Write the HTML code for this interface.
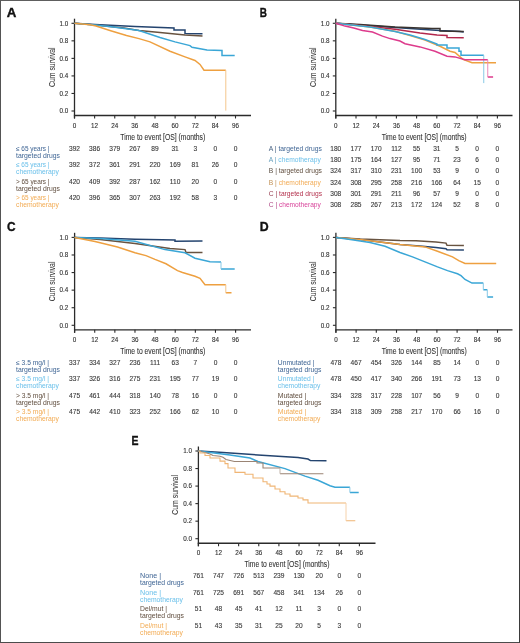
<!DOCTYPE html>
<html><head><meta charset="utf-8"><title>Figure</title>
<style>
html,body{margin:0;padding:0;background:#fff;}
#fig{position:relative;width:520px;height:643px;box-sizing:border-box;border:1px solid #4a4a4a;border-top-color:#5e5e5e;border-left-color:#545454;border-right-color:#3a3a3a;border-bottom-color:#4c4c4c;background:#fff;overflow:hidden;}
svg{position:absolute;left:-1px;top:-1px;font-family:"Liberation Sans", sans-serif;will-change:transform;}
</style></head><body>
<div id="fig">
<svg width="520" height="643" viewBox="0 0 520 643">
<text x="6.8" y="16.5" font-size="12" fill="#111" text-anchor="start" font-weight="bold" textLength="9.6" lengthAdjust="spacingAndGlyphs" stroke="#111" stroke-width="0.35">A</text>
<path d="M74.5 18.7 V118.5" stroke="#2b2b2b" stroke-width="1.3" fill="none"/>
<path d="M73.85 115.5 H251" stroke="#2b2b2b" stroke-width="1.3" fill="none"/>
<path d="M71.5 111.00 H74.5" stroke="#2b2b2b" stroke-width="1.1"/>
<text x="68.2" y="113.30" font-size="6.3" fill="#333" text-anchor="end" font-weight="normal" stroke="#333" stroke-width="0.12">0.0</text>
<path d="M71.5 93.46 H74.5" stroke="#2b2b2b" stroke-width="1.1"/>
<text x="68.2" y="95.76" font-size="6.3" fill="#333" text-anchor="end" font-weight="normal" stroke="#333" stroke-width="0.12">0.2</text>
<path d="M71.5 75.92 H74.5" stroke="#2b2b2b" stroke-width="1.1"/>
<text x="68.2" y="78.22" font-size="6.3" fill="#333" text-anchor="end" font-weight="normal" stroke="#333" stroke-width="0.12">0.4</text>
<path d="M71.5 58.38 H74.5" stroke="#2b2b2b" stroke-width="1.1"/>
<text x="68.2" y="60.68" font-size="6.3" fill="#333" text-anchor="end" font-weight="normal" stroke="#333" stroke-width="0.12">0.6</text>
<path d="M71.5 40.84 H74.5" stroke="#2b2b2b" stroke-width="1.1"/>
<text x="68.2" y="43.14" font-size="6.3" fill="#333" text-anchor="end" font-weight="normal" stroke="#333" stroke-width="0.12">0.8</text>
<path d="M71.5 23.30 H74.5" stroke="#2b2b2b" stroke-width="1.1"/>
<text x="68.2" y="25.60" font-size="6.3" fill="#333" text-anchor="end" font-weight="normal" stroke="#333" stroke-width="0.12">1.0</text>
<path d="M74.50 115.5 V118.5" stroke="#2b2b2b" stroke-width="1.1"/>
<text x="74.50" y="127.5" font-size="6.3" fill="#333" text-anchor="middle" font-weight="normal" stroke="#333" stroke-width="0.12">0</text>
<path d="M94.62 115.5 V118.5" stroke="#2b2b2b" stroke-width="1.1"/>
<text x="94.62" y="127.5" font-size="6.3" fill="#333" text-anchor="middle" font-weight="normal" stroke="#333" stroke-width="0.12">12</text>
<path d="M114.75 115.5 V118.5" stroke="#2b2b2b" stroke-width="1.1"/>
<text x="114.75" y="127.5" font-size="6.3" fill="#333" text-anchor="middle" font-weight="normal" stroke="#333" stroke-width="0.12">24</text>
<path d="M134.88 115.5 V118.5" stroke="#2b2b2b" stroke-width="1.1"/>
<text x="134.88" y="127.5" font-size="6.3" fill="#333" text-anchor="middle" font-weight="normal" stroke="#333" stroke-width="0.12">36</text>
<path d="M155.00 115.5 V118.5" stroke="#2b2b2b" stroke-width="1.1"/>
<text x="155.00" y="127.5" font-size="6.3" fill="#333" text-anchor="middle" font-weight="normal" stroke="#333" stroke-width="0.12">48</text>
<path d="M175.12 115.5 V118.5" stroke="#2b2b2b" stroke-width="1.1"/>
<text x="175.12" y="127.5" font-size="6.3" fill="#333" text-anchor="middle" font-weight="normal" stroke="#333" stroke-width="0.12">60</text>
<path d="M195.25 115.5 V118.5" stroke="#2b2b2b" stroke-width="1.1"/>
<text x="195.25" y="127.5" font-size="6.3" fill="#333" text-anchor="middle" font-weight="normal" stroke="#333" stroke-width="0.12">72</text>
<path d="M215.38 115.5 V118.5" stroke="#2b2b2b" stroke-width="1.1"/>
<text x="215.38" y="127.5" font-size="6.3" fill="#333" text-anchor="middle" font-weight="normal" stroke="#333" stroke-width="0.12">84</text>
<path d="M235.50 115.5 V118.5" stroke="#2b2b2b" stroke-width="1.1"/>
<text x="235.50" y="127.5" font-size="6.3" fill="#333" text-anchor="middle" font-weight="normal" stroke="#333" stroke-width="0.12">96</text>
<text x="162.75" y="139.5" font-size="8.6" fill="#333" text-anchor="middle" font-weight="normal" textLength="85" lengthAdjust="spacingAndGlyphs" stroke="#333" stroke-width="0.1">Time to event [OS] (months)</text>
<text transform="translate(54.5 67.15) rotate(-90)" x="0" y="0" font-size="8.2" fill="#333" stroke="#333" stroke-width="0.06" text-anchor="middle" textLength="39.6" lengthAdjust="spacingAndGlyphs">Cum survival</text>
<path d="M74.50 23.30 L95.00 24.40 L120.00 25.80 L135.00 26.60 L174.00 28.00 L174.00 30.00 L185.00 30.00 L185.00 33.50 L202.50 33.70" stroke="#24446f" stroke-width="1.5" fill="none" stroke-linejoin="miter"/>
<path d="M74.50 23.30 L95.00 25.00 L124.00 28.00 L139.00 30.50 L160.00 32.50 L185.00 35.00 L202.50 36.00" stroke="#685340" stroke-width="1.5" fill="none" stroke-linejoin="miter"/>
<path d="M74.50 23.30 L95.00 24.90 L111.50 26.80 L139.00 30.50 L160.00 37.50 L175.00 41.90 L190.00 45.60 L192.00 47.25 L207.00 50.00 L222.00 50.50 L222.00 55.40 L234.70 55.40" stroke="#3aa6d6" stroke-width="1.5" fill="none" stroke-linejoin="miter"/>
<path d="M74.50 23.30 L90.00 24.80 L96.00 26.00 L111.50 31.00 L126.50 35.50 L139.00 38.60 L150.00 41.90 L170.00 51.25 L185.00 56.90 L195.00 60.50 L200.00 64.40 L204.00 70.20 L225.80 70.20 M225.80 110.60" stroke="#eea040" stroke-width="1.5" fill="none" stroke-linejoin="miter"/>
<path d="M225.80 70.20 V110.60" stroke="#f4c68c" stroke-width="1.0" fill="none"/>
<text x="259.8" y="16.7" font-size="12" fill="#111" text-anchor="start" font-weight="bold" textLength="7.2" lengthAdjust="spacingAndGlyphs" stroke="#111" stroke-width="0.35">B</text>
<path d="M335.8 18.7 V118.5" stroke="#2b2b2b" stroke-width="1.3" fill="none"/>
<path d="M335.15000000000003 115.5 H512.5" stroke="#2b2b2b" stroke-width="1.3" fill="none"/>
<path d="M332.8 111.00 H335.8" stroke="#2b2b2b" stroke-width="1.1"/>
<text x="329.5" y="113.30" font-size="6.3" fill="#333" text-anchor="end" font-weight="normal" stroke="#333" stroke-width="0.12">0.0</text>
<path d="M332.8 93.46 H335.8" stroke="#2b2b2b" stroke-width="1.1"/>
<text x="329.5" y="95.76" font-size="6.3" fill="#333" text-anchor="end" font-weight="normal" stroke="#333" stroke-width="0.12">0.2</text>
<path d="M332.8 75.92 H335.8" stroke="#2b2b2b" stroke-width="1.1"/>
<text x="329.5" y="78.22" font-size="6.3" fill="#333" text-anchor="end" font-weight="normal" stroke="#333" stroke-width="0.12">0.4</text>
<path d="M332.8 58.38 H335.8" stroke="#2b2b2b" stroke-width="1.1"/>
<text x="329.5" y="60.68" font-size="6.3" fill="#333" text-anchor="end" font-weight="normal" stroke="#333" stroke-width="0.12">0.6</text>
<path d="M332.8 40.84 H335.8" stroke="#2b2b2b" stroke-width="1.1"/>
<text x="329.5" y="43.14" font-size="6.3" fill="#333" text-anchor="end" font-weight="normal" stroke="#333" stroke-width="0.12">0.8</text>
<path d="M332.8 23.30 H335.8" stroke="#2b2b2b" stroke-width="1.1"/>
<text x="329.5" y="25.60" font-size="6.3" fill="#333" text-anchor="end" font-weight="normal" stroke="#333" stroke-width="0.12">1.0</text>
<path d="M335.80 115.5 V118.5" stroke="#2b2b2b" stroke-width="1.1"/>
<text x="335.80" y="127.5" font-size="6.3" fill="#333" text-anchor="middle" font-weight="normal" stroke="#333" stroke-width="0.12">0</text>
<path d="M356.00 115.5 V118.5" stroke="#2b2b2b" stroke-width="1.1"/>
<text x="356.00" y="127.5" font-size="6.3" fill="#333" text-anchor="middle" font-weight="normal" stroke="#333" stroke-width="0.12">12</text>
<path d="M376.20 115.5 V118.5" stroke="#2b2b2b" stroke-width="1.1"/>
<text x="376.20" y="127.5" font-size="6.3" fill="#333" text-anchor="middle" font-weight="normal" stroke="#333" stroke-width="0.12">24</text>
<path d="M396.40 115.5 V118.5" stroke="#2b2b2b" stroke-width="1.1"/>
<text x="396.40" y="127.5" font-size="6.3" fill="#333" text-anchor="middle" font-weight="normal" stroke="#333" stroke-width="0.12">36</text>
<path d="M416.60 115.5 V118.5" stroke="#2b2b2b" stroke-width="1.1"/>
<text x="416.60" y="127.5" font-size="6.3" fill="#333" text-anchor="middle" font-weight="normal" stroke="#333" stroke-width="0.12">48</text>
<path d="M436.80 115.5 V118.5" stroke="#2b2b2b" stroke-width="1.1"/>
<text x="436.80" y="127.5" font-size="6.3" fill="#333" text-anchor="middle" font-weight="normal" stroke="#333" stroke-width="0.12">60</text>
<path d="M457.00 115.5 V118.5" stroke="#2b2b2b" stroke-width="1.1"/>
<text x="457.00" y="127.5" font-size="6.3" fill="#333" text-anchor="middle" font-weight="normal" stroke="#333" stroke-width="0.12">72</text>
<path d="M477.20 115.5 V118.5" stroke="#2b2b2b" stroke-width="1.1"/>
<text x="477.20" y="127.5" font-size="6.3" fill="#333" text-anchor="middle" font-weight="normal" stroke="#333" stroke-width="0.12">84</text>
<path d="M497.40 115.5 V118.5" stroke="#2b2b2b" stroke-width="1.1"/>
<text x="497.40" y="127.5" font-size="6.3" fill="#333" text-anchor="middle" font-weight="normal" stroke="#333" stroke-width="0.12">96</text>
<text x="424.15" y="139.5" font-size="8.6" fill="#333" text-anchor="middle" font-weight="normal" textLength="85" lengthAdjust="spacingAndGlyphs" stroke="#333" stroke-width="0.1">Time to event [OS] (months)</text>
<text transform="translate(315.8 67.15) rotate(-90)" x="0" y="0" font-size="8.2" fill="#333" stroke="#333" stroke-width="0.06" text-anchor="middle" textLength="39.6" lengthAdjust="spacingAndGlyphs">Cum survival</text>
<path d="M335.80 23.30 L360.00 25.00 L395.00 27.50 L432.00 30.00 L440.00 30.60 L460.00 31.50 L463.75 31.90" stroke="#24446f" stroke-width="1.5" fill="none" stroke-linejoin="miter"/>
<path d="M335.80 23.30 L360.00 24.50 L395.00 26.90 L432.00 28.50 L440.00 28.50 L440.00 31.00 L463.75 31.50" stroke="#3a3430" stroke-width="1.5" fill="none" stroke-linejoin="miter"/>
<path d="M335.80 23.30 L360.00 25.60 L395.00 29.30 L420.00 33.10 L437.00 35.00 L447.00 35.50 L447.00 37.50 L463.75 37.75" stroke="#b3284c" stroke-width="1.5" fill="none" stroke-linejoin="miter"/>
<path d="M335.80 23.30 L370.00 27.00 L395.00 31.20 L410.00 35.60 L425.00 40.00 L440.00 46.25 L450.00 51.25 L455.00 52.50 L463.00 59.40 L472.00 62.75 L496.00 62.75" stroke="#eea040" stroke-width="1.5" fill="none" stroke-linejoin="miter"/>
<path d="M335.80 23.30 L370.00 27.00 L395.00 31.50 L410.00 35.00 L425.00 39.50 L437.00 44.00 L437.00 45.00 L447.00 45.00 L447.00 48.10 L459.00 48.10 L459.00 51.25 L461.00 51.25 L461.00 55.25 L483.75 55.25 M483.75 83.10" stroke="#3aa6d6" stroke-width="1.5" fill="none" stroke-linejoin="miter"/>
<path d="M483.75 55.25 V83.10" stroke="#88c9e6" stroke-width="1.0" fill="none"/>
<path d="M335.80 23.30 L345.00 26.10 L353.75 28.00 L362.50 30.50 L372.50 32.00 L382.50 36.10 L390.00 38.60 L400.00 41.00 L405.00 43.75 L420.00 46.90 L435.00 51.25 L447.00 56.25 L455.00 56.90 L465.00 59.75 L487.75 59.75 M487.75 77.10 L493.10 77.10" stroke="#dd3b8c" stroke-width="1.5" fill="none" stroke-linejoin="miter"/>
<path d="M487.75 59.75 V77.10" stroke="#ea89ba" stroke-width="1.0" fill="none"/>
<text x="7.0" y="230.9" font-size="12" fill="#111" text-anchor="start" font-weight="bold" textLength="8.6" lengthAdjust="spacingAndGlyphs" stroke="#111" stroke-width="0.35">C</text>
<path d="M74.6 232.8 V332.8" stroke="#2b2b2b" stroke-width="1.3" fill="none"/>
<path d="M73.94999999999999 329.8 H251" stroke="#2b2b2b" stroke-width="1.3" fill="none"/>
<path d="M71.6 325.30 H74.6" stroke="#2b2b2b" stroke-width="1.1"/>
<text x="68.3" y="327.60" font-size="6.3" fill="#333" text-anchor="end" font-weight="normal" stroke="#333" stroke-width="0.12">0.0</text>
<path d="M71.6 307.72 H74.6" stroke="#2b2b2b" stroke-width="1.1"/>
<text x="68.3" y="310.02" font-size="6.3" fill="#333" text-anchor="end" font-weight="normal" stroke="#333" stroke-width="0.12">0.2</text>
<path d="M71.6 290.14 H74.6" stroke="#2b2b2b" stroke-width="1.1"/>
<text x="68.3" y="292.44" font-size="6.3" fill="#333" text-anchor="end" font-weight="normal" stroke="#333" stroke-width="0.12">0.4</text>
<path d="M71.6 272.56 H74.6" stroke="#2b2b2b" stroke-width="1.1"/>
<text x="68.3" y="274.86" font-size="6.3" fill="#333" text-anchor="end" font-weight="normal" stroke="#333" stroke-width="0.12">0.6</text>
<path d="M71.6 254.98 H74.6" stroke="#2b2b2b" stroke-width="1.1"/>
<text x="68.3" y="257.28" font-size="6.3" fill="#333" text-anchor="end" font-weight="normal" stroke="#333" stroke-width="0.12">0.8</text>
<path d="M71.6 237.40 H74.6" stroke="#2b2b2b" stroke-width="1.1"/>
<text x="68.3" y="239.70" font-size="6.3" fill="#333" text-anchor="end" font-weight="normal" stroke="#333" stroke-width="0.12">1.0</text>
<path d="M74.60 329.8 V332.8" stroke="#2b2b2b" stroke-width="1.1"/>
<text x="74.60" y="341.8" font-size="6.3" fill="#333" text-anchor="middle" font-weight="normal" stroke="#333" stroke-width="0.12">0</text>
<path d="M94.72 329.8 V332.8" stroke="#2b2b2b" stroke-width="1.1"/>
<text x="94.72" y="341.8" font-size="6.3" fill="#333" text-anchor="middle" font-weight="normal" stroke="#333" stroke-width="0.12">12</text>
<path d="M114.85 329.8 V332.8" stroke="#2b2b2b" stroke-width="1.1"/>
<text x="114.85" y="341.8" font-size="6.3" fill="#333" text-anchor="middle" font-weight="normal" stroke="#333" stroke-width="0.12">24</text>
<path d="M134.97 329.8 V332.8" stroke="#2b2b2b" stroke-width="1.1"/>
<text x="134.97" y="341.8" font-size="6.3" fill="#333" text-anchor="middle" font-weight="normal" stroke="#333" stroke-width="0.12">36</text>
<path d="M155.10 329.8 V332.8" stroke="#2b2b2b" stroke-width="1.1"/>
<text x="155.10" y="341.8" font-size="6.3" fill="#333" text-anchor="middle" font-weight="normal" stroke="#333" stroke-width="0.12">48</text>
<path d="M175.22 329.8 V332.8" stroke="#2b2b2b" stroke-width="1.1"/>
<text x="175.22" y="341.8" font-size="6.3" fill="#333" text-anchor="middle" font-weight="normal" stroke="#333" stroke-width="0.12">60</text>
<path d="M195.35 329.8 V332.8" stroke="#2b2b2b" stroke-width="1.1"/>
<text x="195.35" y="341.8" font-size="6.3" fill="#333" text-anchor="middle" font-weight="normal" stroke="#333" stroke-width="0.12">72</text>
<path d="M215.47 329.8 V332.8" stroke="#2b2b2b" stroke-width="1.1"/>
<text x="215.47" y="341.8" font-size="6.3" fill="#333" text-anchor="middle" font-weight="normal" stroke="#333" stroke-width="0.12">84</text>
<path d="M235.60 329.8 V332.8" stroke="#2b2b2b" stroke-width="1.1"/>
<text x="235.60" y="341.8" font-size="6.3" fill="#333" text-anchor="middle" font-weight="normal" stroke="#333" stroke-width="0.12">96</text>
<text x="162.80" y="353.8" font-size="8.6" fill="#333" text-anchor="middle" font-weight="normal" textLength="85" lengthAdjust="spacingAndGlyphs" stroke="#333" stroke-width="0.1">Time to event [OS] (months)</text>
<text transform="translate(54.599999999999994 281.35) rotate(-90)" x="0" y="0" font-size="8.2" fill="#333" stroke="#333" stroke-width="0.06" text-anchor="middle" textLength="39.6" lengthAdjust="spacingAndGlyphs">Cum survival</text>
<path d="M74.60 237.40 L100.00 238.00 L135.00 239.30 L175.00 240.00 L175.00 241.25 L202.50 241.10" stroke="#24446f" stroke-width="1.5" fill="none" stroke-linejoin="miter"/>
<path d="M74.60 237.40 L100.00 239.50 L135.00 243.40 L170.00 248.40 L185.00 249.60 L186.00 252.50 L202.50 252.60" stroke="#685340" stroke-width="1.5" fill="none" stroke-linejoin="miter"/>
<path d="M74.60 237.40 L100.00 238.50 L135.00 241.20 L165.00 249.60 L185.00 252.75 L195.00 258.20 L210.00 261.70 L221.00 262.00 M221.00 269.10 L234.70 269.10" stroke="#3aa6d6" stroke-width="1.5" fill="none" stroke-linejoin="miter"/>
<path d="M221.00 262.00 V269.10" stroke="#88c9e6" stroke-width="1.0" fill="none"/>
<path d="M74.60 237.40 L95.00 241.50 L117.50 247.00 L135.00 252.80 L146.00 255.60 L155.00 259.40 L166.00 263.75 L177.50 270.60 L182.50 272.50 L195.00 276.25 L200.00 278.40 L205.00 284.70 L225.80 284.70 M225.80 292.80 L231.50 292.80" stroke="#eea040" stroke-width="1.5" fill="none" stroke-linejoin="miter"/>
<path d="M225.80 284.70 V292.80" stroke="#f4c68c" stroke-width="1.0" fill="none"/>
<text x="259.8" y="231.2" font-size="12" fill="#111" text-anchor="start" font-weight="bold" textLength="8.9" lengthAdjust="spacingAndGlyphs" stroke="#111" stroke-width="0.35">D</text>
<path d="M335.9 232.8 V332.8" stroke="#2b2b2b" stroke-width="1.3" fill="none"/>
<path d="M335.25 329.8 H512.5" stroke="#2b2b2b" stroke-width="1.3" fill="none"/>
<path d="M332.9 325.30 H335.9" stroke="#2b2b2b" stroke-width="1.1"/>
<text x="329.59999999999997" y="327.60" font-size="6.3" fill="#333" text-anchor="end" font-weight="normal" stroke="#333" stroke-width="0.12">0.0</text>
<path d="M332.9 307.72 H335.9" stroke="#2b2b2b" stroke-width="1.1"/>
<text x="329.59999999999997" y="310.02" font-size="6.3" fill="#333" text-anchor="end" font-weight="normal" stroke="#333" stroke-width="0.12">0.2</text>
<path d="M332.9 290.14 H335.9" stroke="#2b2b2b" stroke-width="1.1"/>
<text x="329.59999999999997" y="292.44" font-size="6.3" fill="#333" text-anchor="end" font-weight="normal" stroke="#333" stroke-width="0.12">0.4</text>
<path d="M332.9 272.56 H335.9" stroke="#2b2b2b" stroke-width="1.1"/>
<text x="329.59999999999997" y="274.86" font-size="6.3" fill="#333" text-anchor="end" font-weight="normal" stroke="#333" stroke-width="0.12">0.6</text>
<path d="M332.9 254.98 H335.9" stroke="#2b2b2b" stroke-width="1.1"/>
<text x="329.59999999999997" y="257.28" font-size="6.3" fill="#333" text-anchor="end" font-weight="normal" stroke="#333" stroke-width="0.12">0.8</text>
<path d="M332.9 237.40 H335.9" stroke="#2b2b2b" stroke-width="1.1"/>
<text x="329.59999999999997" y="239.70" font-size="6.3" fill="#333" text-anchor="end" font-weight="normal" stroke="#333" stroke-width="0.12">1.0</text>
<path d="M335.90 329.8 V332.8" stroke="#2b2b2b" stroke-width="1.1"/>
<text x="335.90" y="341.8" font-size="6.3" fill="#333" text-anchor="middle" font-weight="normal" stroke="#333" stroke-width="0.12">0</text>
<path d="M356.10 329.8 V332.8" stroke="#2b2b2b" stroke-width="1.1"/>
<text x="356.10" y="341.8" font-size="6.3" fill="#333" text-anchor="middle" font-weight="normal" stroke="#333" stroke-width="0.12">12</text>
<path d="M376.30 329.8 V332.8" stroke="#2b2b2b" stroke-width="1.1"/>
<text x="376.30" y="341.8" font-size="6.3" fill="#333" text-anchor="middle" font-weight="normal" stroke="#333" stroke-width="0.12">24</text>
<path d="M396.50 329.8 V332.8" stroke="#2b2b2b" stroke-width="1.1"/>
<text x="396.50" y="341.8" font-size="6.3" fill="#333" text-anchor="middle" font-weight="normal" stroke="#333" stroke-width="0.12">36</text>
<path d="M416.70 329.8 V332.8" stroke="#2b2b2b" stroke-width="1.1"/>
<text x="416.70" y="341.8" font-size="6.3" fill="#333" text-anchor="middle" font-weight="normal" stroke="#333" stroke-width="0.12">48</text>
<path d="M436.90 329.8 V332.8" stroke="#2b2b2b" stroke-width="1.1"/>
<text x="436.90" y="341.8" font-size="6.3" fill="#333" text-anchor="middle" font-weight="normal" stroke="#333" stroke-width="0.12">60</text>
<path d="M457.10 329.8 V332.8" stroke="#2b2b2b" stroke-width="1.1"/>
<text x="457.10" y="341.8" font-size="6.3" fill="#333" text-anchor="middle" font-weight="normal" stroke="#333" stroke-width="0.12">72</text>
<path d="M477.30 329.8 V332.8" stroke="#2b2b2b" stroke-width="1.1"/>
<text x="477.30" y="341.8" font-size="6.3" fill="#333" text-anchor="middle" font-weight="normal" stroke="#333" stroke-width="0.12">84</text>
<path d="M497.50 329.8 V332.8" stroke="#2b2b2b" stroke-width="1.1"/>
<text x="497.50" y="341.8" font-size="6.3" fill="#333" text-anchor="middle" font-weight="normal" stroke="#333" stroke-width="0.12">96</text>
<text x="424.20" y="353.8" font-size="8.6" fill="#333" text-anchor="middle" font-weight="normal" textLength="85" lengthAdjust="spacingAndGlyphs" stroke="#333" stroke-width="0.1">Time to event [OS] (months)</text>
<text transform="translate(315.9 281.35) rotate(-90)" x="0" y="0" font-size="8.2" fill="#333" stroke="#333" stroke-width="0.06" text-anchor="middle" textLength="39.6" lengthAdjust="spacingAndGlyphs">Cum survival</text>
<path d="M335.90 237.40 L360.00 239.00 L400.00 240.60 L416.00 240.80 L436.00 241.90 L446.00 243.10 L447.00 245.20 L463.90 245.50" stroke="#685340" stroke-width="1.5" fill="none" stroke-linejoin="miter"/>
<path d="M335.90 237.40 L360.00 239.50 L400.00 244.40 L422.50 246.25 L436.00 247.50 L446.00 248.75 L447.00 249.80 L463.90 249.90" stroke="#24446f" stroke-width="1.5" fill="none" stroke-linejoin="miter"/>
<path d="M335.90 237.40 L360.00 239.50 L400.00 244.40 L425.00 246.90 L437.50 251.25 L452.50 256.90 L458.75 260.60 L465.00 263.50 L496.20 263.50" stroke="#eea040" stroke-width="1.5" fill="none" stroke-linejoin="miter"/>
<path d="M335.90 237.40 L352.00 239.80 L370.00 242.60 L385.00 246.30 L400.00 252.50 L412.50 256.90 L425.00 261.90 L437.50 266.90 L447.50 270.60 L457.50 273.75 L461.00 275.70 L465.00 279.50 L472.00 283.10 L483.30 283.10 M483.30 289.70 L487.30 289.70 M487.30 297.00 L493.10 297.00" stroke="#3aa6d6" stroke-width="1.5" fill="none" stroke-linejoin="miter"/>
<path d="M483.30 283.10 V289.70" stroke="#88c9e6" stroke-width="1.0" fill="none"/>
<path d="M487.30 289.70 V297.00" stroke="#88c9e6" stroke-width="1.0" fill="none"/>
<text x="131.6" y="444.9" font-size="12" fill="#111" text-anchor="start" font-weight="bold" textLength="7.0" lengthAdjust="spacingAndGlyphs" stroke="#111" stroke-width="0.35">E</text>
<path d="M198.4 446.5 V546.25" stroke="#2b2b2b" stroke-width="1.3" fill="none"/>
<path d="M197.75 543.25 H375.5" stroke="#2b2b2b" stroke-width="1.3" fill="none"/>
<path d="M195.4 538.70 H198.4" stroke="#2b2b2b" stroke-width="1.1"/>
<text x="192.1" y="541.00" font-size="6.3" fill="#333" text-anchor="end" font-weight="normal" stroke="#333" stroke-width="0.12">0.0</text>
<path d="M195.4 521.16 H198.4" stroke="#2b2b2b" stroke-width="1.1"/>
<text x="192.1" y="523.46" font-size="6.3" fill="#333" text-anchor="end" font-weight="normal" stroke="#333" stroke-width="0.12">0.2</text>
<path d="M195.4 503.62 H198.4" stroke="#2b2b2b" stroke-width="1.1"/>
<text x="192.1" y="505.92" font-size="6.3" fill="#333" text-anchor="end" font-weight="normal" stroke="#333" stroke-width="0.12">0.4</text>
<path d="M195.4 486.08 H198.4" stroke="#2b2b2b" stroke-width="1.1"/>
<text x="192.1" y="488.38" font-size="6.3" fill="#333" text-anchor="end" font-weight="normal" stroke="#333" stroke-width="0.12">0.6</text>
<path d="M195.4 468.54 H198.4" stroke="#2b2b2b" stroke-width="1.1"/>
<text x="192.1" y="470.84" font-size="6.3" fill="#333" text-anchor="end" font-weight="normal" stroke="#333" stroke-width="0.12">0.8</text>
<path d="M195.4 451.00 H198.4" stroke="#2b2b2b" stroke-width="1.1"/>
<text x="192.1" y="453.30" font-size="6.3" fill="#333" text-anchor="end" font-weight="normal" stroke="#333" stroke-width="0.12">1.0</text>
<path d="M198.40 543.25 V546.25" stroke="#2b2b2b" stroke-width="1.1"/>
<text x="198.40" y="555.25" font-size="6.3" fill="#333" text-anchor="middle" font-weight="normal" stroke="#333" stroke-width="0.12">0</text>
<path d="M218.53 543.25 V546.25" stroke="#2b2b2b" stroke-width="1.1"/>
<text x="218.53" y="555.25" font-size="6.3" fill="#333" text-anchor="middle" font-weight="normal" stroke="#333" stroke-width="0.12">12</text>
<path d="M238.65 543.25 V546.25" stroke="#2b2b2b" stroke-width="1.1"/>
<text x="238.65" y="555.25" font-size="6.3" fill="#333" text-anchor="middle" font-weight="normal" stroke="#333" stroke-width="0.12">24</text>
<path d="M258.77 543.25 V546.25" stroke="#2b2b2b" stroke-width="1.1"/>
<text x="258.77" y="555.25" font-size="6.3" fill="#333" text-anchor="middle" font-weight="normal" stroke="#333" stroke-width="0.12">36</text>
<path d="M278.90 543.25 V546.25" stroke="#2b2b2b" stroke-width="1.1"/>
<text x="278.90" y="555.25" font-size="6.3" fill="#333" text-anchor="middle" font-weight="normal" stroke="#333" stroke-width="0.12">48</text>
<path d="M299.02 543.25 V546.25" stroke="#2b2b2b" stroke-width="1.1"/>
<text x="299.02" y="555.25" font-size="6.3" fill="#333" text-anchor="middle" font-weight="normal" stroke="#333" stroke-width="0.12">60</text>
<path d="M319.15 543.25 V546.25" stroke="#2b2b2b" stroke-width="1.1"/>
<text x="319.15" y="555.25" font-size="6.3" fill="#333" text-anchor="middle" font-weight="normal" stroke="#333" stroke-width="0.12">72</text>
<path d="M339.27 543.25 V546.25" stroke="#2b2b2b" stroke-width="1.1"/>
<text x="339.27" y="555.25" font-size="6.3" fill="#333" text-anchor="middle" font-weight="normal" stroke="#333" stroke-width="0.12">84</text>
<path d="M359.40 543.25 V546.25" stroke="#2b2b2b" stroke-width="1.1"/>
<text x="359.40" y="555.25" font-size="6.3" fill="#333" text-anchor="middle" font-weight="normal" stroke="#333" stroke-width="0.12">96</text>
<text x="286.95" y="567.25" font-size="8.6" fill="#333" text-anchor="middle" font-weight="normal" textLength="85" lengthAdjust="spacingAndGlyphs" stroke="#333" stroke-width="0.1">Time to event [OS] (months)</text>
<text transform="translate(178.4 494.85) rotate(-90)" x="0" y="0" font-size="8.2" fill="#333" stroke="#333" stroke-width="0.06" text-anchor="middle" textLength="39.6" lengthAdjust="spacingAndGlyphs">Cum survival</text>
<path d="M198.40 451.00 L223.00 452.50 L258.00 455.00 L298.00 457.50 L308.00 459.00 L310.50 460.60 L326.50 460.80" stroke="#24446f" stroke-width="1.5" fill="none" stroke-linejoin="miter"/>
<path d="M198.40 451.00 L230.00 454.90 L250.00 458.00 L258.00 461.50 L285.00 468.60 L305.00 476.10 L318.00 480.30 L330.00 485.80 L335.00 487.30 L349.90 487.30 M349.90 492.50 L358.70 492.50" stroke="#3aa6d6" stroke-width="1.5" fill="none" stroke-linejoin="miter"/>
<path d="M349.90 487.30 V492.50" stroke="#88c9e6" stroke-width="1.0" fill="none"/>
<path d="M198.40 451.00 L205.00 452.50 L210.00 454.00 L213.00 455.50 L220.00 456.20 L223.00 457.20 L226.00 459.50 L234.40 461.50 L257.00 461.50 L257.00 463.00 L263.00 463.00 L263.00 468.00 L280.00 468.00 M280.00 473.70 L323.40 473.70" stroke="#9a8474" stroke-width="1.1" fill="none" stroke-linejoin="miter"/>
<path d="M280.00 468.00 V473.70" stroke="#c2b5ab" stroke-width="1.0" fill="none"/>
<path d="M198.40 451.00 L200.00 451.00 L200.00 453.00 L205.00 453.00 L205.00 455.50 L210.00 455.50 L210.00 458.00 L220.00 458.00 L220.00 461.10 L225.00 461.10 L225.00 463.60 L228.00 463.60 L228.00 468.00 L235.00 468.00 L235.00 472.40 L245.00 472.40 L245.00 474.25 L253.00 474.25 L253.00 478.00 L263.00 478.00 L263.00 481.75 L267.00 481.75 L267.00 484.00 L270.00 484.00 L270.00 486.10 L275.00 486.10 L275.00 489.00 L280.00 489.00 L280.00 491.75 L285.00 491.75 L285.00 494.00 L290.00 494.00 L290.00 496.10 L298.00 496.10 L298.00 498.00 L303.00 498.00 L303.00 499.90 L308.00 499.90 L308.00 503.00 L346.00 503.00 M346.00 520.80 L355.30 520.80" stroke="#f0b574" stroke-width="1.1" fill="none" stroke-linejoin="miter"/>
<path d="M346.00 503.00 V520.80" stroke="#f6d2ab" stroke-width="1.0" fill="none"/>
<text x="16" y="150.9" font-size="6.7" fill="#3f6594" text-anchor="start" font-weight="normal" textLength="33.5" lengthAdjust="spacingAndGlyphs" stroke="#3f6594" stroke-width="0.01">≤ 65 years |</text>
<text x="16" y="157.90" font-size="6.7" fill="#3f6594" text-anchor="start" font-weight="normal" textLength="44" lengthAdjust="spacingAndGlyphs" stroke="#3f6594" stroke-width="0.01">targeted drugs</text>
<text x="74.50" y="150.9" font-size="6.6" fill="#3a3a3a" text-anchor="middle" font-weight="normal" stroke="#3a3a3a" stroke-width="0.12">392</text>
<text x="94.62" y="150.9" font-size="6.6" fill="#3a3a3a" text-anchor="middle" font-weight="normal" stroke="#3a3a3a" stroke-width="0.12">386</text>
<text x="114.75" y="150.9" font-size="6.6" fill="#3a3a3a" text-anchor="middle" font-weight="normal" stroke="#3a3a3a" stroke-width="0.12">379</text>
<text x="134.88" y="150.9" font-size="6.6" fill="#3a3a3a" text-anchor="middle" font-weight="normal" stroke="#3a3a3a" stroke-width="0.12">267</text>
<text x="155.00" y="150.9" font-size="6.6" fill="#3a3a3a" text-anchor="middle" font-weight="normal" stroke="#3a3a3a" stroke-width="0.12">89</text>
<text x="175.12" y="150.9" font-size="6.6" fill="#3a3a3a" text-anchor="middle" font-weight="normal" stroke="#3a3a3a" stroke-width="0.12">31</text>
<text x="195.25" y="150.9" font-size="6.6" fill="#3a3a3a" text-anchor="middle" font-weight="normal" stroke="#3a3a3a" stroke-width="0.12">3</text>
<text x="215.38" y="150.9" font-size="6.6" fill="#3a3a3a" text-anchor="middle" font-weight="normal" stroke="#3a3a3a" stroke-width="0.12">0</text>
<text x="235.50" y="150.9" font-size="6.6" fill="#3a3a3a" text-anchor="middle" font-weight="normal" stroke="#3a3a3a" stroke-width="0.12">0</text>
<text x="16" y="167.2" font-size="6.7" fill="#6cc0ea" text-anchor="start" font-weight="normal" textLength="33.5" lengthAdjust="spacingAndGlyphs" stroke="#6cc0ea" stroke-width="0.01">≤ 65 years |</text>
<text x="16" y="174.20" font-size="6.7" fill="#6cc0ea" text-anchor="start" font-weight="normal" textLength="43" lengthAdjust="spacingAndGlyphs" stroke="#6cc0ea" stroke-width="0.01">chemotherapy</text>
<text x="74.50" y="167.2" font-size="6.6" fill="#3a3a3a" text-anchor="middle" font-weight="normal" stroke="#3a3a3a" stroke-width="0.12">392</text>
<text x="94.62" y="167.2" font-size="6.6" fill="#3a3a3a" text-anchor="middle" font-weight="normal" stroke="#3a3a3a" stroke-width="0.12">372</text>
<text x="114.75" y="167.2" font-size="6.6" fill="#3a3a3a" text-anchor="middle" font-weight="normal" stroke="#3a3a3a" stroke-width="0.12">361</text>
<text x="134.88" y="167.2" font-size="6.6" fill="#3a3a3a" text-anchor="middle" font-weight="normal" stroke="#3a3a3a" stroke-width="0.12">291</text>
<text x="155.00" y="167.2" font-size="6.6" fill="#3a3a3a" text-anchor="middle" font-weight="normal" stroke="#3a3a3a" stroke-width="0.12">220</text>
<text x="175.12" y="167.2" font-size="6.6" fill="#3a3a3a" text-anchor="middle" font-weight="normal" stroke="#3a3a3a" stroke-width="0.12">169</text>
<text x="195.25" y="167.2" font-size="6.6" fill="#3a3a3a" text-anchor="middle" font-weight="normal" stroke="#3a3a3a" stroke-width="0.12">81</text>
<text x="215.38" y="167.2" font-size="6.6" fill="#3a3a3a" text-anchor="middle" font-weight="normal" stroke="#3a3a3a" stroke-width="0.12">26</text>
<text x="235.50" y="167.2" font-size="6.6" fill="#3a3a3a" text-anchor="middle" font-weight="normal" stroke="#3a3a3a" stroke-width="0.12">0</text>
<text x="16" y="183.5" font-size="6.7" fill="#604e3f" text-anchor="start" font-weight="normal" textLength="33.5" lengthAdjust="spacingAndGlyphs" stroke="#604e3f" stroke-width="0.01">&gt; 65 years |</text>
<text x="16" y="190.50" font-size="6.7" fill="#604e3f" text-anchor="start" font-weight="normal" textLength="44" lengthAdjust="spacingAndGlyphs" stroke="#604e3f" stroke-width="0.01">targeted drugs</text>
<text x="74.50" y="183.5" font-size="6.6" fill="#3a3a3a" text-anchor="middle" font-weight="normal" stroke="#3a3a3a" stroke-width="0.12">420</text>
<text x="94.62" y="183.5" font-size="6.6" fill="#3a3a3a" text-anchor="middle" font-weight="normal" stroke="#3a3a3a" stroke-width="0.12">409</text>
<text x="114.75" y="183.5" font-size="6.6" fill="#3a3a3a" text-anchor="middle" font-weight="normal" stroke="#3a3a3a" stroke-width="0.12">392</text>
<text x="134.88" y="183.5" font-size="6.6" fill="#3a3a3a" text-anchor="middle" font-weight="normal" stroke="#3a3a3a" stroke-width="0.12">287</text>
<text x="155.00" y="183.5" font-size="6.6" fill="#3a3a3a" text-anchor="middle" font-weight="normal" stroke="#3a3a3a" stroke-width="0.12">162</text>
<text x="175.12" y="183.5" font-size="6.6" fill="#3a3a3a" text-anchor="middle" font-weight="normal" stroke="#3a3a3a" stroke-width="0.12">110</text>
<text x="195.25" y="183.5" font-size="6.6" fill="#3a3a3a" text-anchor="middle" font-weight="normal" stroke="#3a3a3a" stroke-width="0.12">20</text>
<text x="215.38" y="183.5" font-size="6.6" fill="#3a3a3a" text-anchor="middle" font-weight="normal" stroke="#3a3a3a" stroke-width="0.12">0</text>
<text x="235.50" y="183.5" font-size="6.6" fill="#3a3a3a" text-anchor="middle" font-weight="normal" stroke="#3a3a3a" stroke-width="0.12">0</text>
<text x="16" y="199.8" font-size="6.7" fill="#f2ab55" text-anchor="start" font-weight="normal" textLength="33.5" lengthAdjust="spacingAndGlyphs" stroke="#f2ab55" stroke-width="0.01">&gt; 65 years |</text>
<text x="16" y="206.80" font-size="6.7" fill="#f2ab55" text-anchor="start" font-weight="normal" textLength="43" lengthAdjust="spacingAndGlyphs" stroke="#f2ab55" stroke-width="0.01">chemotherapy</text>
<text x="74.50" y="199.8" font-size="6.6" fill="#3a3a3a" text-anchor="middle" font-weight="normal" stroke="#3a3a3a" stroke-width="0.12">420</text>
<text x="94.62" y="199.8" font-size="6.6" fill="#3a3a3a" text-anchor="middle" font-weight="normal" stroke="#3a3a3a" stroke-width="0.12">396</text>
<text x="114.75" y="199.8" font-size="6.6" fill="#3a3a3a" text-anchor="middle" font-weight="normal" stroke="#3a3a3a" stroke-width="0.12">365</text>
<text x="134.88" y="199.8" font-size="6.6" fill="#3a3a3a" text-anchor="middle" font-weight="normal" stroke="#3a3a3a" stroke-width="0.12">307</text>
<text x="155.00" y="199.8" font-size="6.6" fill="#3a3a3a" text-anchor="middle" font-weight="normal" stroke="#3a3a3a" stroke-width="0.12">263</text>
<text x="175.12" y="199.8" font-size="6.6" fill="#3a3a3a" text-anchor="middle" font-weight="normal" stroke="#3a3a3a" stroke-width="0.12">192</text>
<text x="195.25" y="199.8" font-size="6.6" fill="#3a3a3a" text-anchor="middle" font-weight="normal" stroke="#3a3a3a" stroke-width="0.12">58</text>
<text x="215.38" y="199.8" font-size="6.6" fill="#3a3a3a" text-anchor="middle" font-weight="normal" stroke="#3a3a3a" stroke-width="0.12">3</text>
<text x="235.50" y="199.8" font-size="6.6" fill="#3a3a3a" text-anchor="middle" font-weight="normal" stroke="#3a3a3a" stroke-width="0.12">0</text>
<text x="268.8" y="150.6" font-size="6.7" fill="#3f6594" textLength="53.2" lengthAdjust="spacingAndGlyphs"><tspan fill="#456081">A | </tspan>targeted drugs</text>
<text x="335.80" y="150.6" font-size="6.6" fill="#3a3a3a" text-anchor="middle" font-weight="normal" stroke="#3a3a3a" stroke-width="0.12">180</text>
<text x="356.00" y="150.6" font-size="6.6" fill="#3a3a3a" text-anchor="middle" font-weight="normal" stroke="#3a3a3a" stroke-width="0.12">177</text>
<text x="376.20" y="150.6" font-size="6.6" fill="#3a3a3a" text-anchor="middle" font-weight="normal" stroke="#3a3a3a" stroke-width="0.12">170</text>
<text x="396.40" y="150.6" font-size="6.6" fill="#3a3a3a" text-anchor="middle" font-weight="normal" stroke="#3a3a3a" stroke-width="0.12">112</text>
<text x="416.60" y="150.6" font-size="6.6" fill="#3a3a3a" text-anchor="middle" font-weight="normal" stroke="#3a3a3a" stroke-width="0.12">55</text>
<text x="436.80" y="150.6" font-size="6.6" fill="#3a3a3a" text-anchor="middle" font-weight="normal" stroke="#3a3a3a" stroke-width="0.12">31</text>
<text x="457.00" y="150.6" font-size="6.6" fill="#3a3a3a" text-anchor="middle" font-weight="normal" stroke="#3a3a3a" stroke-width="0.12">5</text>
<text x="477.20" y="150.6" font-size="6.6" fill="#3a3a3a" text-anchor="middle" font-weight="normal" stroke="#3a3a3a" stroke-width="0.12">0</text>
<text x="497.40" y="150.6" font-size="6.6" fill="#3a3a3a" text-anchor="middle" font-weight="normal" stroke="#3a3a3a" stroke-width="0.12">0</text>
<text x="268.8" y="162.1" font-size="6.7" fill="#6cc0ea" textLength="52" lengthAdjust="spacingAndGlyphs"><tspan fill="#659fbd">A | </tspan>chemotherapy</text>
<text x="335.80" y="162.1" font-size="6.6" fill="#3a3a3a" text-anchor="middle" font-weight="normal" stroke="#3a3a3a" stroke-width="0.12">180</text>
<text x="356.00" y="162.1" font-size="6.6" fill="#3a3a3a" text-anchor="middle" font-weight="normal" stroke="#3a3a3a" stroke-width="0.12">175</text>
<text x="376.20" y="162.1" font-size="6.6" fill="#3a3a3a" text-anchor="middle" font-weight="normal" stroke="#3a3a3a" stroke-width="0.12">164</text>
<text x="396.40" y="162.1" font-size="6.6" fill="#3a3a3a" text-anchor="middle" font-weight="normal" stroke="#3a3a3a" stroke-width="0.12">127</text>
<text x="416.60" y="162.1" font-size="6.6" fill="#3a3a3a" text-anchor="middle" font-weight="normal" stroke="#3a3a3a" stroke-width="0.12">95</text>
<text x="436.80" y="162.1" font-size="6.6" fill="#3a3a3a" text-anchor="middle" font-weight="normal" stroke="#3a3a3a" stroke-width="0.12">71</text>
<text x="457.00" y="162.1" font-size="6.6" fill="#3a3a3a" text-anchor="middle" font-weight="normal" stroke="#3a3a3a" stroke-width="0.12">23</text>
<text x="477.20" y="162.1" font-size="6.6" fill="#3a3a3a" text-anchor="middle" font-weight="normal" stroke="#3a3a3a" stroke-width="0.12">6</text>
<text x="497.40" y="162.1" font-size="6.6" fill="#3a3a3a" text-anchor="middle" font-weight="normal" stroke="#3a3a3a" stroke-width="0.12">0</text>
<text x="268.8" y="173.2" font-size="6.7" fill="#604e3f" textLength="53.2" lengthAdjust="spacingAndGlyphs"><tspan fill="#5c5045">B | </tspan>targeted drugs</text>
<text x="335.80" y="173.2" font-size="6.6" fill="#3a3a3a" text-anchor="middle" font-weight="normal" stroke="#3a3a3a" stroke-width="0.12">324</text>
<text x="356.00" y="173.2" font-size="6.6" fill="#3a3a3a" text-anchor="middle" font-weight="normal" stroke="#3a3a3a" stroke-width="0.12">317</text>
<text x="376.20" y="173.2" font-size="6.6" fill="#3a3a3a" text-anchor="middle" font-weight="normal" stroke="#3a3a3a" stroke-width="0.12">310</text>
<text x="396.40" y="173.2" font-size="6.6" fill="#3a3a3a" text-anchor="middle" font-weight="normal" stroke="#3a3a3a" stroke-width="0.12">231</text>
<text x="416.60" y="173.2" font-size="6.6" fill="#3a3a3a" text-anchor="middle" font-weight="normal" stroke="#3a3a3a" stroke-width="0.12">100</text>
<text x="436.80" y="173.2" font-size="6.6" fill="#3a3a3a" text-anchor="middle" font-weight="normal" stroke="#3a3a3a" stroke-width="0.12">53</text>
<text x="457.00" y="173.2" font-size="6.6" fill="#3a3a3a" text-anchor="middle" font-weight="normal" stroke="#3a3a3a" stroke-width="0.12">9</text>
<text x="477.20" y="173.2" font-size="6.6" fill="#3a3a3a" text-anchor="middle" font-weight="normal" stroke="#3a3a3a" stroke-width="0.12">0</text>
<text x="497.40" y="173.2" font-size="6.6" fill="#3a3a3a" text-anchor="middle" font-weight="normal" stroke="#3a3a3a" stroke-width="0.12">0</text>
<text x="268.8" y="184.6" font-size="6.7" fill="#f2ab55" textLength="52" lengthAdjust="spacingAndGlyphs"><tspan fill="#c29155">B | </tspan>chemotherapy</text>
<text x="335.80" y="184.6" font-size="6.6" fill="#3a3a3a" text-anchor="middle" font-weight="normal" stroke="#3a3a3a" stroke-width="0.12">324</text>
<text x="356.00" y="184.6" font-size="6.6" fill="#3a3a3a" text-anchor="middle" font-weight="normal" stroke="#3a3a3a" stroke-width="0.12">308</text>
<text x="376.20" y="184.6" font-size="6.6" fill="#3a3a3a" text-anchor="middle" font-weight="normal" stroke="#3a3a3a" stroke-width="0.12">295</text>
<text x="396.40" y="184.6" font-size="6.6" fill="#3a3a3a" text-anchor="middle" font-weight="normal" stroke="#3a3a3a" stroke-width="0.12">258</text>
<text x="416.60" y="184.6" font-size="6.6" fill="#3a3a3a" text-anchor="middle" font-weight="normal" stroke="#3a3a3a" stroke-width="0.12">216</text>
<text x="436.80" y="184.6" font-size="6.6" fill="#3a3a3a" text-anchor="middle" font-weight="normal" stroke="#3a3a3a" stroke-width="0.12">166</text>
<text x="457.00" y="184.6" font-size="6.6" fill="#3a3a3a" text-anchor="middle" font-weight="normal" stroke="#3a3a3a" stroke-width="0.12">64</text>
<text x="477.20" y="184.6" font-size="6.6" fill="#3a3a3a" text-anchor="middle" font-weight="normal" stroke="#3a3a3a" stroke-width="0.12">15</text>
<text x="497.40" y="184.6" font-size="6.6" fill="#3a3a3a" text-anchor="middle" font-weight="normal" stroke="#3a3a3a" stroke-width="0.12">0</text>
<text x="268.8" y="195.7" font-size="6.7" fill="#b3304c" textLength="53.2" lengthAdjust="spacingAndGlyphs"><tspan fill="#963b4e">C | </tspan>targeted drugs</text>
<text x="335.80" y="195.7" font-size="6.6" fill="#3a3a3a" text-anchor="middle" font-weight="normal" stroke="#3a3a3a" stroke-width="0.12">308</text>
<text x="356.00" y="195.7" font-size="6.6" fill="#3a3a3a" text-anchor="middle" font-weight="normal" stroke="#3a3a3a" stroke-width="0.12">301</text>
<text x="376.20" y="195.7" font-size="6.6" fill="#3a3a3a" text-anchor="middle" font-weight="normal" stroke="#3a3a3a" stroke-width="0.12">291</text>
<text x="396.40" y="195.7" font-size="6.6" fill="#3a3a3a" text-anchor="middle" font-weight="normal" stroke="#3a3a3a" stroke-width="0.12">211</text>
<text x="416.60" y="195.7" font-size="6.6" fill="#3a3a3a" text-anchor="middle" font-weight="normal" stroke="#3a3a3a" stroke-width="0.12">96</text>
<text x="436.80" y="195.7" font-size="6.6" fill="#3a3a3a" text-anchor="middle" font-weight="normal" stroke="#3a3a3a" stroke-width="0.12">57</text>
<text x="457.00" y="195.7" font-size="6.6" fill="#3a3a3a" text-anchor="middle" font-weight="normal" stroke="#3a3a3a" stroke-width="0.12">9</text>
<text x="477.20" y="195.7" font-size="6.6" fill="#3a3a3a" text-anchor="middle" font-weight="normal" stroke="#3a3a3a" stroke-width="0.12">0</text>
<text x="497.40" y="195.7" font-size="6.6" fill="#3a3a3a" text-anchor="middle" font-weight="normal" stroke="#3a3a3a" stroke-width="0.12">0</text>
<text x="268.8" y="206.9" font-size="6.7" fill="#d8449a" textLength="52" lengthAdjust="spacingAndGlyphs"><tspan fill="#b04985">C | </tspan>chemotherapy</text>
<text x="335.80" y="206.9" font-size="6.6" fill="#3a3a3a" text-anchor="middle" font-weight="normal" stroke="#3a3a3a" stroke-width="0.12">308</text>
<text x="356.00" y="206.9" font-size="6.6" fill="#3a3a3a" text-anchor="middle" font-weight="normal" stroke="#3a3a3a" stroke-width="0.12">285</text>
<text x="376.20" y="206.9" font-size="6.6" fill="#3a3a3a" text-anchor="middle" font-weight="normal" stroke="#3a3a3a" stroke-width="0.12">267</text>
<text x="396.40" y="206.9" font-size="6.6" fill="#3a3a3a" text-anchor="middle" font-weight="normal" stroke="#3a3a3a" stroke-width="0.12">213</text>
<text x="416.60" y="206.9" font-size="6.6" fill="#3a3a3a" text-anchor="middle" font-weight="normal" stroke="#3a3a3a" stroke-width="0.12">172</text>
<text x="436.80" y="206.9" font-size="6.6" fill="#3a3a3a" text-anchor="middle" font-weight="normal" stroke="#3a3a3a" stroke-width="0.12">124</text>
<text x="457.00" y="206.9" font-size="6.6" fill="#3a3a3a" text-anchor="middle" font-weight="normal" stroke="#3a3a3a" stroke-width="0.12">52</text>
<text x="477.20" y="206.9" font-size="6.6" fill="#3a3a3a" text-anchor="middle" font-weight="normal" stroke="#3a3a3a" stroke-width="0.12">8</text>
<text x="497.40" y="206.9" font-size="6.6" fill="#3a3a3a" text-anchor="middle" font-weight="normal" stroke="#3a3a3a" stroke-width="0.12">0</text>
<text x="16" y="364.7" font-size="6.7" fill="#3f6594" text-anchor="start" font-weight="normal" textLength="33" lengthAdjust="spacingAndGlyphs" stroke="#3f6594" stroke-width="0.01">≤ 3.5 mg/l |</text>
<text x="16" y="371.70" font-size="6.7" fill="#3f6594" text-anchor="start" font-weight="normal" textLength="44" lengthAdjust="spacingAndGlyphs" stroke="#3f6594" stroke-width="0.01">targeted drugs</text>
<text x="74.60" y="364.7" font-size="6.6" fill="#3a3a3a" text-anchor="middle" font-weight="normal" stroke="#3a3a3a" stroke-width="0.12">337</text>
<text x="94.72" y="364.7" font-size="6.6" fill="#3a3a3a" text-anchor="middle" font-weight="normal" stroke="#3a3a3a" stroke-width="0.12">334</text>
<text x="114.85" y="364.7" font-size="6.6" fill="#3a3a3a" text-anchor="middle" font-weight="normal" stroke="#3a3a3a" stroke-width="0.12">327</text>
<text x="134.97" y="364.7" font-size="6.6" fill="#3a3a3a" text-anchor="middle" font-weight="normal" stroke="#3a3a3a" stroke-width="0.12">236</text>
<text x="155.10" y="364.7" font-size="6.6" fill="#3a3a3a" text-anchor="middle" font-weight="normal" stroke="#3a3a3a" stroke-width="0.12">111</text>
<text x="175.22" y="364.7" font-size="6.6" fill="#3a3a3a" text-anchor="middle" font-weight="normal" stroke="#3a3a3a" stroke-width="0.12">63</text>
<text x="195.35" y="364.7" font-size="6.6" fill="#3a3a3a" text-anchor="middle" font-weight="normal" stroke="#3a3a3a" stroke-width="0.12">7</text>
<text x="215.47" y="364.7" font-size="6.6" fill="#3a3a3a" text-anchor="middle" font-weight="normal" stroke="#3a3a3a" stroke-width="0.12">0</text>
<text x="235.60" y="364.7" font-size="6.6" fill="#3a3a3a" text-anchor="middle" font-weight="normal" stroke="#3a3a3a" stroke-width="0.12">0</text>
<text x="16" y="381.2" font-size="6.7" fill="#6cc0ea" text-anchor="start" font-weight="normal" textLength="33" lengthAdjust="spacingAndGlyphs" stroke="#6cc0ea" stroke-width="0.01">≤ 3.5 mg/l |</text>
<text x="16" y="388.20" font-size="6.7" fill="#6cc0ea" text-anchor="start" font-weight="normal" textLength="43" lengthAdjust="spacingAndGlyphs" stroke="#6cc0ea" stroke-width="0.01">chemotherapy</text>
<text x="74.60" y="381.2" font-size="6.6" fill="#3a3a3a" text-anchor="middle" font-weight="normal" stroke="#3a3a3a" stroke-width="0.12">337</text>
<text x="94.72" y="381.2" font-size="6.6" fill="#3a3a3a" text-anchor="middle" font-weight="normal" stroke="#3a3a3a" stroke-width="0.12">326</text>
<text x="114.85" y="381.2" font-size="6.6" fill="#3a3a3a" text-anchor="middle" font-weight="normal" stroke="#3a3a3a" stroke-width="0.12">316</text>
<text x="134.97" y="381.2" font-size="6.6" fill="#3a3a3a" text-anchor="middle" font-weight="normal" stroke="#3a3a3a" stroke-width="0.12">275</text>
<text x="155.10" y="381.2" font-size="6.6" fill="#3a3a3a" text-anchor="middle" font-weight="normal" stroke="#3a3a3a" stroke-width="0.12">231</text>
<text x="175.22" y="381.2" font-size="6.6" fill="#3a3a3a" text-anchor="middle" font-weight="normal" stroke="#3a3a3a" stroke-width="0.12">195</text>
<text x="195.35" y="381.2" font-size="6.6" fill="#3a3a3a" text-anchor="middle" font-weight="normal" stroke="#3a3a3a" stroke-width="0.12">77</text>
<text x="215.47" y="381.2" font-size="6.6" fill="#3a3a3a" text-anchor="middle" font-weight="normal" stroke="#3a3a3a" stroke-width="0.12">19</text>
<text x="235.60" y="381.2" font-size="6.6" fill="#3a3a3a" text-anchor="middle" font-weight="normal" stroke="#3a3a3a" stroke-width="0.12">0</text>
<text x="16" y="397.7" font-size="6.7" fill="#604e3f" text-anchor="start" font-weight="normal" textLength="33" lengthAdjust="spacingAndGlyphs" stroke="#604e3f" stroke-width="0.01">&gt; 3.5 mg/l |</text>
<text x="16" y="404.70" font-size="6.7" fill="#604e3f" text-anchor="start" font-weight="normal" textLength="44" lengthAdjust="spacingAndGlyphs" stroke="#604e3f" stroke-width="0.01">targeted drugs</text>
<text x="74.60" y="397.7" font-size="6.6" fill="#3a3a3a" text-anchor="middle" font-weight="normal" stroke="#3a3a3a" stroke-width="0.12">475</text>
<text x="94.72" y="397.7" font-size="6.6" fill="#3a3a3a" text-anchor="middle" font-weight="normal" stroke="#3a3a3a" stroke-width="0.12">461</text>
<text x="114.85" y="397.7" font-size="6.6" fill="#3a3a3a" text-anchor="middle" font-weight="normal" stroke="#3a3a3a" stroke-width="0.12">444</text>
<text x="134.97" y="397.7" font-size="6.6" fill="#3a3a3a" text-anchor="middle" font-weight="normal" stroke="#3a3a3a" stroke-width="0.12">318</text>
<text x="155.10" y="397.7" font-size="6.6" fill="#3a3a3a" text-anchor="middle" font-weight="normal" stroke="#3a3a3a" stroke-width="0.12">140</text>
<text x="175.22" y="397.7" font-size="6.6" fill="#3a3a3a" text-anchor="middle" font-weight="normal" stroke="#3a3a3a" stroke-width="0.12">78</text>
<text x="195.35" y="397.7" font-size="6.6" fill="#3a3a3a" text-anchor="middle" font-weight="normal" stroke="#3a3a3a" stroke-width="0.12">16</text>
<text x="215.47" y="397.7" font-size="6.6" fill="#3a3a3a" text-anchor="middle" font-weight="normal" stroke="#3a3a3a" stroke-width="0.12">0</text>
<text x="235.60" y="397.7" font-size="6.6" fill="#3a3a3a" text-anchor="middle" font-weight="normal" stroke="#3a3a3a" stroke-width="0.12">0</text>
<text x="16" y="413.7" font-size="6.7" fill="#f2ab55" text-anchor="start" font-weight="normal" textLength="33" lengthAdjust="spacingAndGlyphs" stroke="#f2ab55" stroke-width="0.01">&gt; 3.5 mg/l |</text>
<text x="16" y="420.70" font-size="6.7" fill="#f2ab55" text-anchor="start" font-weight="normal" textLength="43" lengthAdjust="spacingAndGlyphs" stroke="#f2ab55" stroke-width="0.01">chemotherapy</text>
<text x="74.60" y="413.7" font-size="6.6" fill="#3a3a3a" text-anchor="middle" font-weight="normal" stroke="#3a3a3a" stroke-width="0.12">475</text>
<text x="94.72" y="413.7" font-size="6.6" fill="#3a3a3a" text-anchor="middle" font-weight="normal" stroke="#3a3a3a" stroke-width="0.12">442</text>
<text x="114.85" y="413.7" font-size="6.6" fill="#3a3a3a" text-anchor="middle" font-weight="normal" stroke="#3a3a3a" stroke-width="0.12">410</text>
<text x="134.97" y="413.7" font-size="6.6" fill="#3a3a3a" text-anchor="middle" font-weight="normal" stroke="#3a3a3a" stroke-width="0.12">323</text>
<text x="155.10" y="413.7" font-size="6.6" fill="#3a3a3a" text-anchor="middle" font-weight="normal" stroke="#3a3a3a" stroke-width="0.12">252</text>
<text x="175.22" y="413.7" font-size="6.6" fill="#3a3a3a" text-anchor="middle" font-weight="normal" stroke="#3a3a3a" stroke-width="0.12">166</text>
<text x="195.35" y="413.7" font-size="6.6" fill="#3a3a3a" text-anchor="middle" font-weight="normal" stroke="#3a3a3a" stroke-width="0.12">62</text>
<text x="215.47" y="413.7" font-size="6.6" fill="#3a3a3a" text-anchor="middle" font-weight="normal" stroke="#3a3a3a" stroke-width="0.12">10</text>
<text x="235.60" y="413.7" font-size="6.6" fill="#3a3a3a" text-anchor="middle" font-weight="normal" stroke="#3a3a3a" stroke-width="0.12">0</text>
<text x="277.8" y="364.5" font-size="6.7" fill="#3f6594" text-anchor="start" font-weight="normal" textLength="36.5" lengthAdjust="spacingAndGlyphs" stroke="#3f6594" stroke-width="0.01">Unmutated |</text>
<text x="277.8" y="371.50" font-size="6.7" fill="#3f6594" text-anchor="start" font-weight="normal" textLength="43.5" lengthAdjust="spacingAndGlyphs" stroke="#3f6594" stroke-width="0.01">targeted drugs</text>
<text x="335.90" y="364.5" font-size="6.6" fill="#3a3a3a" text-anchor="middle" font-weight="normal" stroke="#3a3a3a" stroke-width="0.12">478</text>
<text x="356.10" y="364.5" font-size="6.6" fill="#3a3a3a" text-anchor="middle" font-weight="normal" stroke="#3a3a3a" stroke-width="0.12">467</text>
<text x="376.30" y="364.5" font-size="6.6" fill="#3a3a3a" text-anchor="middle" font-weight="normal" stroke="#3a3a3a" stroke-width="0.12">454</text>
<text x="396.50" y="364.5" font-size="6.6" fill="#3a3a3a" text-anchor="middle" font-weight="normal" stroke="#3a3a3a" stroke-width="0.12">326</text>
<text x="416.70" y="364.5" font-size="6.6" fill="#3a3a3a" text-anchor="middle" font-weight="normal" stroke="#3a3a3a" stroke-width="0.12">144</text>
<text x="436.90" y="364.5" font-size="6.6" fill="#3a3a3a" text-anchor="middle" font-weight="normal" stroke="#3a3a3a" stroke-width="0.12">85</text>
<text x="457.10" y="364.5" font-size="6.6" fill="#3a3a3a" text-anchor="middle" font-weight="normal" stroke="#3a3a3a" stroke-width="0.12">14</text>
<text x="477.30" y="364.5" font-size="6.6" fill="#3a3a3a" text-anchor="middle" font-weight="normal" stroke="#3a3a3a" stroke-width="0.12">0</text>
<text x="497.50" y="364.5" font-size="6.6" fill="#3a3a3a" text-anchor="middle" font-weight="normal" stroke="#3a3a3a" stroke-width="0.12">0</text>
<text x="277.8" y="381.0" font-size="6.7" fill="#6cc0ea" text-anchor="start" font-weight="normal" textLength="36.5" lengthAdjust="spacingAndGlyphs" stroke="#6cc0ea" stroke-width="0.01">Unmutated |</text>
<text x="277.8" y="388.00" font-size="6.7" fill="#6cc0ea" text-anchor="start" font-weight="normal" textLength="42.5" lengthAdjust="spacingAndGlyphs" stroke="#6cc0ea" stroke-width="0.01">chemotherapy</text>
<text x="335.90" y="381.0" font-size="6.6" fill="#3a3a3a" text-anchor="middle" font-weight="normal" stroke="#3a3a3a" stroke-width="0.12">478</text>
<text x="356.10" y="381.0" font-size="6.6" fill="#3a3a3a" text-anchor="middle" font-weight="normal" stroke="#3a3a3a" stroke-width="0.12">450</text>
<text x="376.30" y="381.0" font-size="6.6" fill="#3a3a3a" text-anchor="middle" font-weight="normal" stroke="#3a3a3a" stroke-width="0.12">417</text>
<text x="396.50" y="381.0" font-size="6.6" fill="#3a3a3a" text-anchor="middle" font-weight="normal" stroke="#3a3a3a" stroke-width="0.12">340</text>
<text x="416.70" y="381.0" font-size="6.6" fill="#3a3a3a" text-anchor="middle" font-weight="normal" stroke="#3a3a3a" stroke-width="0.12">266</text>
<text x="436.90" y="381.0" font-size="6.6" fill="#3a3a3a" text-anchor="middle" font-weight="normal" stroke="#3a3a3a" stroke-width="0.12">191</text>
<text x="457.10" y="381.0" font-size="6.6" fill="#3a3a3a" text-anchor="middle" font-weight="normal" stroke="#3a3a3a" stroke-width="0.12">73</text>
<text x="477.30" y="381.0" font-size="6.6" fill="#3a3a3a" text-anchor="middle" font-weight="normal" stroke="#3a3a3a" stroke-width="0.12">13</text>
<text x="497.50" y="381.0" font-size="6.6" fill="#3a3a3a" text-anchor="middle" font-weight="normal" stroke="#3a3a3a" stroke-width="0.12">0</text>
<text x="277.8" y="397.5" font-size="6.7" fill="#604e3f" text-anchor="start" font-weight="normal" textLength="28.5" lengthAdjust="spacingAndGlyphs" stroke="#604e3f" stroke-width="0.01">Mutated |</text>
<text x="277.8" y="404.50" font-size="6.7" fill="#604e3f" text-anchor="start" font-weight="normal" textLength="43.5" lengthAdjust="spacingAndGlyphs" stroke="#604e3f" stroke-width="0.01">targeted drugs</text>
<text x="335.90" y="397.5" font-size="6.6" fill="#3a3a3a" text-anchor="middle" font-weight="normal" stroke="#3a3a3a" stroke-width="0.12">334</text>
<text x="356.10" y="397.5" font-size="6.6" fill="#3a3a3a" text-anchor="middle" font-weight="normal" stroke="#3a3a3a" stroke-width="0.12">328</text>
<text x="376.30" y="397.5" font-size="6.6" fill="#3a3a3a" text-anchor="middle" font-weight="normal" stroke="#3a3a3a" stroke-width="0.12">317</text>
<text x="396.50" y="397.5" font-size="6.6" fill="#3a3a3a" text-anchor="middle" font-weight="normal" stroke="#3a3a3a" stroke-width="0.12">228</text>
<text x="416.70" y="397.5" font-size="6.6" fill="#3a3a3a" text-anchor="middle" font-weight="normal" stroke="#3a3a3a" stroke-width="0.12">107</text>
<text x="436.90" y="397.5" font-size="6.6" fill="#3a3a3a" text-anchor="middle" font-weight="normal" stroke="#3a3a3a" stroke-width="0.12">56</text>
<text x="457.10" y="397.5" font-size="6.6" fill="#3a3a3a" text-anchor="middle" font-weight="normal" stroke="#3a3a3a" stroke-width="0.12">9</text>
<text x="477.30" y="397.5" font-size="6.6" fill="#3a3a3a" text-anchor="middle" font-weight="normal" stroke="#3a3a3a" stroke-width="0.12">0</text>
<text x="497.50" y="397.5" font-size="6.6" fill="#3a3a3a" text-anchor="middle" font-weight="normal" stroke="#3a3a3a" stroke-width="0.12">0</text>
<text x="277.8" y="413.6" font-size="6.7" fill="#f2ab55" text-anchor="start" font-weight="normal" textLength="28.5" lengthAdjust="spacingAndGlyphs" stroke="#f2ab55" stroke-width="0.01">Mutated |</text>
<text x="277.8" y="420.60" font-size="6.7" fill="#f2ab55" text-anchor="start" font-weight="normal" textLength="42.5" lengthAdjust="spacingAndGlyphs" stroke="#f2ab55" stroke-width="0.01">chemotherapy</text>
<text x="335.90" y="413.6" font-size="6.6" fill="#3a3a3a" text-anchor="middle" font-weight="normal" stroke="#3a3a3a" stroke-width="0.12">334</text>
<text x="356.10" y="413.6" font-size="6.6" fill="#3a3a3a" text-anchor="middle" font-weight="normal" stroke="#3a3a3a" stroke-width="0.12">318</text>
<text x="376.30" y="413.6" font-size="6.6" fill="#3a3a3a" text-anchor="middle" font-weight="normal" stroke="#3a3a3a" stroke-width="0.12">309</text>
<text x="396.50" y="413.6" font-size="6.6" fill="#3a3a3a" text-anchor="middle" font-weight="normal" stroke="#3a3a3a" stroke-width="0.12">258</text>
<text x="416.70" y="413.6" font-size="6.6" fill="#3a3a3a" text-anchor="middle" font-weight="normal" stroke="#3a3a3a" stroke-width="0.12">217</text>
<text x="436.90" y="413.6" font-size="6.6" fill="#3a3a3a" text-anchor="middle" font-weight="normal" stroke="#3a3a3a" stroke-width="0.12">170</text>
<text x="457.10" y="413.6" font-size="6.6" fill="#3a3a3a" text-anchor="middle" font-weight="normal" stroke="#3a3a3a" stroke-width="0.12">66</text>
<text x="477.30" y="413.6" font-size="6.6" fill="#3a3a3a" text-anchor="middle" font-weight="normal" stroke="#3a3a3a" stroke-width="0.12">16</text>
<text x="497.50" y="413.6" font-size="6.6" fill="#3a3a3a" text-anchor="middle" font-weight="normal" stroke="#3a3a3a" stroke-width="0.12">0</text>
<text x="140" y="578.4" font-size="6.7" fill="#3f6594" text-anchor="start" font-weight="normal" textLength="21" lengthAdjust="spacingAndGlyphs" stroke="#3f6594" stroke-width="0.01">None |</text>
<text x="140" y="585.40" font-size="6.7" fill="#3f6594" text-anchor="start" font-weight="normal" textLength="44" lengthAdjust="spacingAndGlyphs" stroke="#3f6594" stroke-width="0.01">targeted drugs</text>
<text x="198.40" y="578.4" font-size="6.6" fill="#3a3a3a" text-anchor="middle" font-weight="normal" stroke="#3a3a3a" stroke-width="0.12">761</text>
<text x="218.53" y="578.4" font-size="6.6" fill="#3a3a3a" text-anchor="middle" font-weight="normal" stroke="#3a3a3a" stroke-width="0.12">747</text>
<text x="238.65" y="578.4" font-size="6.6" fill="#3a3a3a" text-anchor="middle" font-weight="normal" stroke="#3a3a3a" stroke-width="0.12">726</text>
<text x="258.77" y="578.4" font-size="6.6" fill="#3a3a3a" text-anchor="middle" font-weight="normal" stroke="#3a3a3a" stroke-width="0.12">513</text>
<text x="278.90" y="578.4" font-size="6.6" fill="#3a3a3a" text-anchor="middle" font-weight="normal" stroke="#3a3a3a" stroke-width="0.12">239</text>
<text x="299.02" y="578.4" font-size="6.6" fill="#3a3a3a" text-anchor="middle" font-weight="normal" stroke="#3a3a3a" stroke-width="0.12">130</text>
<text x="319.15" y="578.4" font-size="6.6" fill="#3a3a3a" text-anchor="middle" font-weight="normal" stroke="#3a3a3a" stroke-width="0.12">20</text>
<text x="339.27" y="578.4" font-size="6.6" fill="#3a3a3a" text-anchor="middle" font-weight="normal" stroke="#3a3a3a" stroke-width="0.12">0</text>
<text x="359.40" y="578.4" font-size="6.6" fill="#3a3a3a" text-anchor="middle" font-weight="normal" stroke="#3a3a3a" stroke-width="0.12">0</text>
<text x="140" y="594.9" font-size="6.7" fill="#6cc0ea" text-anchor="start" font-weight="normal" textLength="21" lengthAdjust="spacingAndGlyphs" stroke="#6cc0ea" stroke-width="0.01">None |</text>
<text x="140" y="601.90" font-size="6.7" fill="#6cc0ea" text-anchor="start" font-weight="normal" textLength="43" lengthAdjust="spacingAndGlyphs" stroke="#6cc0ea" stroke-width="0.01">chemotherapy</text>
<text x="198.40" y="594.9" font-size="6.6" fill="#3a3a3a" text-anchor="middle" font-weight="normal" stroke="#3a3a3a" stroke-width="0.12">761</text>
<text x="218.53" y="594.9" font-size="6.6" fill="#3a3a3a" text-anchor="middle" font-weight="normal" stroke="#3a3a3a" stroke-width="0.12">725</text>
<text x="238.65" y="594.9" font-size="6.6" fill="#3a3a3a" text-anchor="middle" font-weight="normal" stroke="#3a3a3a" stroke-width="0.12">691</text>
<text x="258.77" y="594.9" font-size="6.6" fill="#3a3a3a" text-anchor="middle" font-weight="normal" stroke="#3a3a3a" stroke-width="0.12">567</text>
<text x="278.90" y="594.9" font-size="6.6" fill="#3a3a3a" text-anchor="middle" font-weight="normal" stroke="#3a3a3a" stroke-width="0.12">458</text>
<text x="299.02" y="594.9" font-size="6.6" fill="#3a3a3a" text-anchor="middle" font-weight="normal" stroke="#3a3a3a" stroke-width="0.12">341</text>
<text x="319.15" y="594.9" font-size="6.6" fill="#3a3a3a" text-anchor="middle" font-weight="normal" stroke="#3a3a3a" stroke-width="0.12">134</text>
<text x="339.27" y="594.9" font-size="6.6" fill="#3a3a3a" text-anchor="middle" font-weight="normal" stroke="#3a3a3a" stroke-width="0.12">26</text>
<text x="359.40" y="594.9" font-size="6.6" fill="#3a3a3a" text-anchor="middle" font-weight="normal" stroke="#3a3a3a" stroke-width="0.12">0</text>
<text x="140" y="611.1" font-size="6.7" fill="#604e3f" text-anchor="start" font-weight="normal" textLength="27" lengthAdjust="spacingAndGlyphs" stroke="#604e3f" stroke-width="0.01">Del/mut |</text>
<text x="140" y="618.10" font-size="6.7" fill="#604e3f" text-anchor="start" font-weight="normal" textLength="44" lengthAdjust="spacingAndGlyphs" stroke="#604e3f" stroke-width="0.01">targeted drugs</text>
<text x="198.40" y="611.1" font-size="6.6" fill="#3a3a3a" text-anchor="middle" font-weight="normal" stroke="#3a3a3a" stroke-width="0.12">51</text>
<text x="218.53" y="611.1" font-size="6.6" fill="#3a3a3a" text-anchor="middle" font-weight="normal" stroke="#3a3a3a" stroke-width="0.12">48</text>
<text x="238.65" y="611.1" font-size="6.6" fill="#3a3a3a" text-anchor="middle" font-weight="normal" stroke="#3a3a3a" stroke-width="0.12">45</text>
<text x="258.77" y="611.1" font-size="6.6" fill="#3a3a3a" text-anchor="middle" font-weight="normal" stroke="#3a3a3a" stroke-width="0.12">41</text>
<text x="278.90" y="611.1" font-size="6.6" fill="#3a3a3a" text-anchor="middle" font-weight="normal" stroke="#3a3a3a" stroke-width="0.12">12</text>
<text x="299.02" y="611.1" font-size="6.6" fill="#3a3a3a" text-anchor="middle" font-weight="normal" stroke="#3a3a3a" stroke-width="0.12">11</text>
<text x="319.15" y="611.1" font-size="6.6" fill="#3a3a3a" text-anchor="middle" font-weight="normal" stroke="#3a3a3a" stroke-width="0.12">3</text>
<text x="339.27" y="611.1" font-size="6.6" fill="#3a3a3a" text-anchor="middle" font-weight="normal" stroke="#3a3a3a" stroke-width="0.12">0</text>
<text x="359.40" y="611.1" font-size="6.6" fill="#3a3a3a" text-anchor="middle" font-weight="normal" stroke="#3a3a3a" stroke-width="0.12">0</text>
<text x="140" y="627.6" font-size="6.7" fill="#f2ab55" text-anchor="start" font-weight="normal" textLength="27" lengthAdjust="spacingAndGlyphs" stroke="#f2ab55" stroke-width="0.01">Del/mut |</text>
<text x="140" y="634.60" font-size="6.7" fill="#f2ab55" text-anchor="start" font-weight="normal" textLength="43" lengthAdjust="spacingAndGlyphs" stroke="#f2ab55" stroke-width="0.01">chemotherapy</text>
<text x="198.40" y="627.6" font-size="6.6" fill="#3a3a3a" text-anchor="middle" font-weight="normal" stroke="#3a3a3a" stroke-width="0.12">51</text>
<text x="218.53" y="627.6" font-size="6.6" fill="#3a3a3a" text-anchor="middle" font-weight="normal" stroke="#3a3a3a" stroke-width="0.12">43</text>
<text x="238.65" y="627.6" font-size="6.6" fill="#3a3a3a" text-anchor="middle" font-weight="normal" stroke="#3a3a3a" stroke-width="0.12">35</text>
<text x="258.77" y="627.6" font-size="6.6" fill="#3a3a3a" text-anchor="middle" font-weight="normal" stroke="#3a3a3a" stroke-width="0.12">31</text>
<text x="278.90" y="627.6" font-size="6.6" fill="#3a3a3a" text-anchor="middle" font-weight="normal" stroke="#3a3a3a" stroke-width="0.12">25</text>
<text x="299.02" y="627.6" font-size="6.6" fill="#3a3a3a" text-anchor="middle" font-weight="normal" stroke="#3a3a3a" stroke-width="0.12">20</text>
<text x="319.15" y="627.6" font-size="6.6" fill="#3a3a3a" text-anchor="middle" font-weight="normal" stroke="#3a3a3a" stroke-width="0.12">5</text>
<text x="339.27" y="627.6" font-size="6.6" fill="#3a3a3a" text-anchor="middle" font-weight="normal" stroke="#3a3a3a" stroke-width="0.12">3</text>
<text x="359.40" y="627.6" font-size="6.6" fill="#3a3a3a" text-anchor="middle" font-weight="normal" stroke="#3a3a3a" stroke-width="0.12">0</text>
</svg>
</div>
</body></html>
